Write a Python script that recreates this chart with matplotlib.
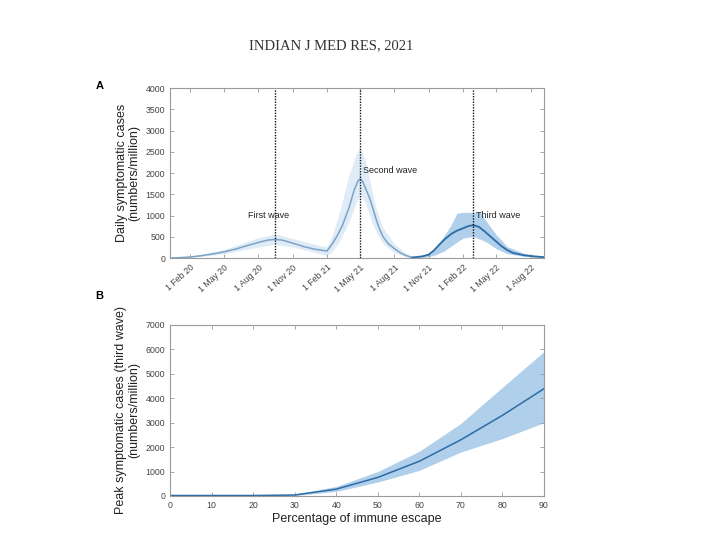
"""Recreate the two-panel third wave projection figure (Indian J Med Res, 2021)."""

import matplotlib

matplotlib.use("Agg")
import matplotlib.pyplot as plt
import matplotlib.dates as mdates
import pandas as pd

plt.rcParams["font.family"] = ["Liberation Sans", "DejaVu Sans"]

# ---- panel A data (daily symptomatic cases per million) ----
wave12_dates = [
    "2019-12-08", "2020-01-01", "2020-02-01", "2020-03-01", "2020-04-01",
    "2020-05-01", "2020-06-01", "2020-07-01", "2020-08-01", "2020-08-25",
    "2020-09-15", "2020-10-05", "2020-11-01", "2020-12-01", "2021-01-01",
    "2021-02-01", "2021-02-15", "2021-03-01", "2021-03-15", "2021-04-01",
    "2021-04-15", "2021-04-25", "2021-05-01", "2021-05-08", "2021-05-15",
    "2021-05-26", "2021-06-03", "2021-06-13", "2021-06-22", "2021-07-01",
    "2021-07-15", "2021-08-01", "2021-08-17", "2021-09-02", "2021-09-18",
]
wave12_cases = [
    0, 8, 24, 55, 95,
    145, 210, 290, 365, 420,
    438, 420, 350, 268, 205,
    165, 330, 530, 780, 1180,
    1600, 1810, 1860, 1800, 1650,
    1420, 1200, 910, 680, 508,
    340, 220, 120, 55, 12,
]

band12_dates = [
    "2019-12-08", "2020-02-01", "2020-05-01", "2020-08-01", "2020-09-15",
    "2020-11-01", "2021-01-01", "2021-02-01", "2021-02-15", "2021-03-09",
    "2021-04-01", "2021-04-20", "2021-05-01", "2021-05-15", "2021-06-01",
    "2021-06-15", "2021-07-01", "2021-08-01", "2021-09-01", "2021-09-18",
    "2021-10-15",
]
band12_upper = [
    0, 40, 200, 480, 565,
    460, 320, 266, 520, 1150,
    1950, 2450, 2600, 2300, 1600,
    1100, 720, 330, 110, 40,
    10,
]
band12_lower = [
    0, 12, 100, 260, 320,
    260, 130, 65, 150, 427,
    850, 1300, 1500, 1300, 850,
    580, 340, 130, 30, 5,
    0,
]

wave3_dates = [
    "2021-09-18", "2021-10-15", "2021-11-01", "2021-11-15", "2021-12-01",
    "2021-12-15", "2022-01-01", "2022-01-15", "2022-02-01", "2022-02-15",
    "2022-02-28", "2022-03-15", "2022-03-29", "2022-04-15", "2022-05-01",
    "2022-05-15", "2022-05-31", "2022-06-15", "2022-07-15", "2022-08-10",
    "2022-09-06",
]
wave3_cases = [
    12, 40, 80, 180, 330,
    450, 570, 640, 700, 750,
    774, 735, 640, 510, 387,
    280, 185, 120, 65, 38,
    22,
]

band3_dates = [
    "2021-09-18", "2021-10-15", "2021-11-01", "2021-11-14", "2021-12-11",
    "2021-12-29", "2022-01-16", "2022-02-01", "2022-02-28", "2022-03-20",
    "2022-04-07", "2022-05-01", "2022-05-31", "2022-07-15", "2022-09-06",
]
band3_upper = [
    15, 60, 120, 185, 508,
    750, 1056, 1073, 1075, 1073,
    830, 548, 266, 105, 35,
]
band3_lower = [
    5, 15, 30, 60, 160,
    266, 380, 468, 508, 440,
    363, 220, 100, 40, 8,
]

wave_peaks = ["2020-09-15", "2021-05-01", "2022-02-28"]
wave_labels = ["First wave", "Second wave", "Third wave"]
wave_label_y = [1000, 2050, 1000]

# ---- panel B data (peak of third wave vs immune escape) ----
escape_pct = [0, 10, 20, 30, 40, 50, 60, 70, 80, 90]
peak_cases = [20, 20, 20, 40, 280, 760, 1420, 2300, 3300, 4390]
peak_upper = [35, 35, 35, 75, 390, 1000, 1830, 2970, 4450, 5910]
peak_lower = [5, 5, 5, 15, 190, 570, 1050, 1800, 2350, 3000]

LIGHT_BAND = "#dfebf6"
LIGHT_LINE = "#7ba3c8"
DARK_BAND = "#b0cfea"
DARK_LINE = "#2c6ca6"
SPINE = "#9a9a9a"
TICK_TXT = "#444444"


def style_axes(ax):
    for sp in ax.spines.values():
        sp.set_color(SPINE)
        sp.set_linewidth(0.8)
    ax.tick_params(direction="in", length=3, width=0.6, color=SPINE,
                   labelsize=6.3, labelcolor=TICK_TXT,
                   top=True, right=True)


fig = plt.figure(figsize=(7.2, 5.4), dpi=100)

fig.text(0.46, 0.915, "INDIAN J MED RES, 2021", ha="center", va="center",
         fontsize=10.5, family="Liberation Serif", color="#333333")

# ---- panel A ----
ax_a = fig.add_axes([0.2361, 0.5222, 0.5194, 0.3148])
d12 = pd.to_datetime(wave12_dates)
b12 = pd.to_datetime(band12_dates)
d3 = pd.to_datetime(wave3_dates)
b3 = pd.to_datetime(band3_dates)

ax_a.fill_between(b12, band12_lower, band12_upper, color=LIGHT_BAND, lw=0)
ax_a.fill_between(b3, band3_lower, band3_upper, color=DARK_BAND, lw=0)
ax_a.plot(d12, wave12_cases, color=LIGHT_LINE, lw=1.1)
ax_a.plot(d3, wave3_cases, color=DARK_LINE, lw=1.3)

for day, label, y in zip(wave_peaks, wave_labels, wave_label_y):
    x = pd.Timestamp(day)
    ax_a.axvline(x, color="#111111", lw=1.0, ls=(0, (1, 1)))
    if label == "First wave":
        ax_a.text(x - pd.Timedelta(days=18), y, label, ha="center", va="center",
                  fontsize=6.5, color="#222222")
    else:
        ax_a.text(x + pd.Timedelta(days=7), y, label, ha="left", va="center",
                  fontsize=6.5, color="#222222")

ax_a.set_xlim(pd.Timestamp("2019-12-08"), pd.Timestamp("2022-09-06"))
ax_a.set_ylim(0, 4000)
ax_a.set_yticks(range(0, 4001, 500))
ax_a.xaxis.set_major_locator(mdates.MonthLocator(bymonth=[2, 5, 8, 11], bymonthday=1))
ax_a.xaxis.set_major_formatter(mdates.DateFormatter("1 %b %y"))
style_axes(ax_a)
for lab in ax_a.get_xticklabels():
    lab.set_rotation(42)
    lab.set_ha("right")
    lab.set_rotation_mode("anchor")
ax_a.set_ylabel("Daily symptomatic cases\n(numbers/million)", fontsize=9,
                color="#222222", labelpad=4, linespacing=1.05)
fig.text(0.138, 0.84, "A", fontsize=8, fontweight="bold", ha="center", va="center")

# ---- panel B ----
ax_b = fig.add_axes([0.2361, 0.0815, 0.5194, 0.3167])
ax_b.fill_between(escape_pct, peak_lower, peak_upper, color=DARK_BAND, lw=0)
ax_b.plot(escape_pct, peak_cases, color=DARK_LINE, lw=1.1)
ax_b.set_xlim(0, 90)
ax_b.set_ylim(0, 7000)
ax_b.set_xticks(range(0, 91, 10))
ax_b.set_yticks(range(0, 7001, 1000))
style_axes(ax_b)
ax_b.set_xlabel("Percentage of immune escape", fontsize=9, color="#222222",
                labelpad=2)
ax_b.set_ylabel("Peak symptomatic cases (third wave)\n(numbers/million)",
                fontsize=9, color="#222222", labelpad=4, linespacing=1.15)
fig.text(0.138, 0.452, "B", fontsize=8, fontweight="bold", ha="center", va="center")

fig.savefig("out.png", dpi=100)
